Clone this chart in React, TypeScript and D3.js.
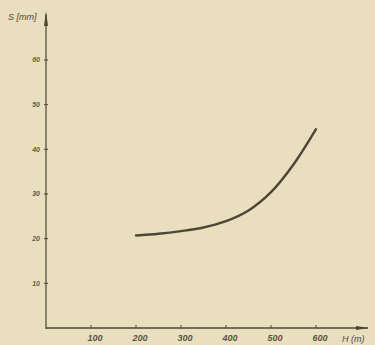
import React from 'react';
import * as d3 from 'd3';

// depth H (m) and settlement S (mm)
const heights = [200, 250, 300, 350, 400, 450, 500, 550, 600];
const settlements = [20.7, 21.1, 21.7, 22.5, 23.9, 26.3, 30.4, 36.6, 44.5];

const xTickValues = [100, 200, 300, 400, 500, 600];
const yTickValues = [10, 20, 30, 40, 50, 60];

const W = 375;
const H = 345;
const ink = '#4b4636';
const paper = '#e9dfbf';
const font = '"Liberation Sans", Arial, sans-serif';

export default function App() {
  const x = d3.scaleLinear().domain([0, 600]).range([46, 316]);
  const y = d3.scaleLinear().domain([0, 60]).range([328, 60]);

  const pts: [number, number][] = heights.map((h, i) => [h, settlements[i]]);
  const line = d3
    .line<[number, number]>()
    .x(d => x(d[0]))
    .y(d => y(d[1]))
    .curve(d3.curveCatmullRom);

  const x0 = x(0);
  const y0 = y(0);

  return (
    <svg
      width={W}
      height={H}
      style={{ position: 'absolute', left: 0, top: 0, background: paper }}
    >
      <rect x={0} y={0} width={W} height={H} fill={paper} />

      {/* y axis with arrow */}
      <line x1={x0} y1={y0 + 1} x2={x0} y2={14} stroke={ink} strokeWidth={1.2} />
      <path d={`M${x0 - 2},26 L${x0},11 L${x0 + 2},26 Z`} fill={ink} />

      {/* x axis with arrow */}
      <line x1={x0} y1={y0} x2={368} y2={y0} stroke={ink} strokeWidth={1.4} />
      <path d={`M356,${y0 - 2} L369,${y0} L356,${y0 + 2} Z`} fill={ink} />

      {yTickValues.map(v => (
        <g key={'y' + v}>
          <line x1={x0 - 2} x2={x0 + 2} y1={y(v)} y2={y(v)} stroke={ink} strokeWidth={1} />
          <text
            x={x0 - 6}
            y={y(v)}
            dy="0.35em"
            textAnchor="end"
            fontFamily={font}
            fontStyle="italic"
            fontWeight="bold"
            fontSize={7}
            fill="#625c4a"
          >
            {v}
          </text>
        </g>
      ))}

      {xTickValues.map(v => (
        <g key={'x' + v}>
          <line x1={x(v)} x2={x(v)} y1={y0 - 3} y2={y0} stroke={ink} strokeWidth={1} />
          <text
            x={x(v) + 4}
            y={y0 + 13}
            textAnchor="middle"
            fontFamily={font}
            fontStyle="italic"
            fontWeight="bold"
            fontSize={9}
            fill="#5a5444"
          >
            {v}
          </text>
        </g>
      ))}

      <text x={8} y={20} fontFamily={font} fontStyle="italic" fontSize={9} fill="#4f4a3b">
        S [mm]
      </text>
      <text x={342} y={342} fontFamily={font} fontStyle="italic" fontSize={9} fill="#4f4a3b">
        H (m)
      </text>

      <path d={line(pts) ?? ''} fill="none" stroke={ink} strokeWidth={2.4} strokeLinecap="round" />
    </svg>
  );
}
